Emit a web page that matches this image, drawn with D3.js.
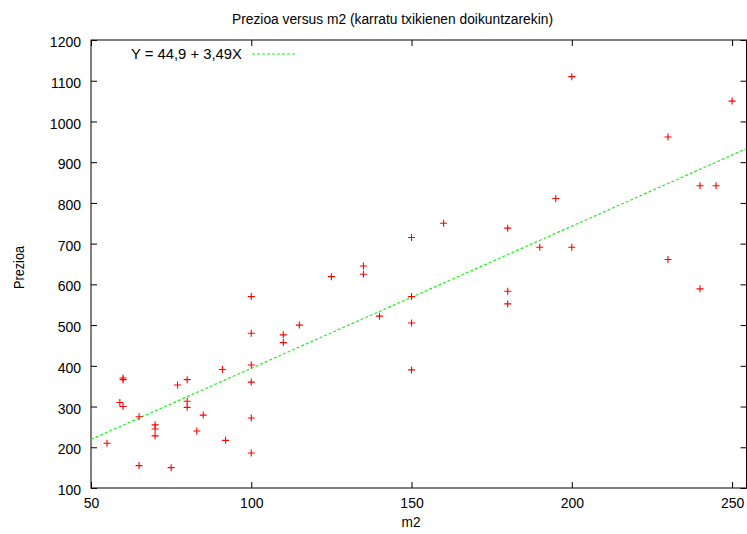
<!DOCTYPE html>
<html>
<head>
<meta charset="utf-8">
<script src="https://cdn.jsdelivr.net/npm/d3@7"></script>
<style>
  body { margin: 0; background: #fff; }
  svg { display: block; font-family: "Liberation Sans", Arial, sans-serif; }
  .axis path { display: none; }
  .axis line { stroke: #000; }
  .axis text { font-size: 14px; fill: #000; }
</style>
</head>
<body>
<div id="chart"></div>
<script>
// m2 / prezioa pairs
const m2 = [
  55, 59, 60, 60, 60, 65, 65, 70, 70, 70,
  75, 77, 80, 80, 80, 83, 85, 91, 92, 100,
  100, 100, 100, 100, 100, 110, 110, 115, 125, 135,
  135, 140, 150, 150, 150, 150, 160, 180, 180, 180,
  190, 195, 200, 200, 230, 230, 240, 240, 245, 250
];
const prezioa = [
  210, 310, 370, 366, 300, 275, 155, 255, 245, 228,
  150, 353, 366, 313, 298, 240, 279, 391, 217, 570,
  480, 402, 360, 272, 186, 476, 457, 500, 619, 645,
  625, 522, 715, 570, 505, 390, 750, 738, 583, 552,
  691, 811, 1110, 691, 962, 661, 842, 589, 842, 1050
];
const xTicks = [50, 100, 150, 200, 250];
const yTicks = [100, 200, 300, 400, 500, 600, 700, 800, 900, 1000, 1100, 1200];
const fitA = 44.9, fitB = 3.49;
const fitLabel = "Y = 44,9 + 3,49X";

const width = 747, height = 534;
const mLeft = 91, mRight = 746.5, mTop = 40, mBottom = 488;

const svg = d3.select("#chart").append("svg")
  .attr("width", width)
  .attr("height", height);

const x = d3.scaleLinear().domain([50, 254.5]).range([mLeft, mRight]);
const y = d3.scaleLinear().domain([100, 1200]).range([mBottom, mTop]);

// ticks drawn inward like gnuplot, mirrored on top and right
svg.append("g").attr("class", "axis")
  .attr("transform", `translate(${mLeft},0)`)
  .call(d3.axisLeft(y).tickValues(yTicks).tickSize(-6).tickPadding(10).tickFormat(d3.format("d")))
  .selectAll("text").attr("dy", "0.47em");
svg.append("g").attr("class", "axis")
  .attr("transform", `translate(${mRight},0)`)
  .call(d3.axisRight(y).tickValues(yTicks).tickSize(-6).tickFormat(""));
svg.append("g").attr("class", "axis")
  .attr("transform", `translate(0,${mBottom})`)
  .call(d3.axisBottom(x).tickValues(xTicks).tickSize(-6).tickPadding(10));
svg.append("g").attr("class", "axis")
  .attr("transform", `translate(0,${mTop})`)
  .call(d3.axisTop(x).tickValues(xTicks).tickSize(-6).tickFormat(""));

svg.append("rect")
  .attr("x", mLeft).attr("y", mTop)
  .attr("width", mRight - mLeft).attr("height", mBottom - mTop)
  .attr("fill", "none").attr("stroke", "#000").attr("stroke-width", 1);

// fit line
const fitXs = [50, 254.5];
svg.append("line")
  .attr("x1", x(fitXs[0])).attr("y1", y(fitA + fitB * fitXs[0]))
  .attr("x2", x(fitXs[1])).attr("y2", y(fitA + fitB * fitXs[1]))
  .attr("stroke", "#22ee22").attr("stroke-width", 1.2)
  .attr("stroke-dasharray", "3,2");

// points
const pts = m2.map((d, i) => ({ x: d, y: prezioa[i] }));
svg.append("g").selectAll("path")
  .data(pts)
  .join("path")
  .attr("d", (d) => {
    const px = x(d.x), py = y(d.y);
    return `M${px - 3.5},${py}H${px + 3.5}M${px},${py - 3.5}V${py + 3.5}`;
  })
  .attr("stroke", "#ff0000")
  .attr("stroke-width", 1.1);

// legend
svg.append("text")
  .attr("x", 242).attr("y", 59)
  .attr("text-anchor", "end")
  .attr("textLength", 111).attr("lengthAdjust", "spacingAndGlyphs")
  .style("font-size", "14px")
  .text(fitLabel);
svg.append("line")
  .attr("x1", 252).attr("x2", 295).attr("y1", 54).attr("y2", 54)
  .attr("stroke", "#22ee22").attr("stroke-width", 1.2)
  .attr("stroke-dasharray", "3,2");

// title and axis labels
svg.append("text")
  .attr("x", 392.5).attr("y", 24)
  .attr("text-anchor", "middle")
  .attr("textLength", 321).attr("lengthAdjust", "spacingAndGlyphs")
  .style("font-size", "14px")
  .text("Prezioa versus m2 (karratu txikienen doikuntzarekin)");
svg.append("text")
  .attr("x", 411).attr("y", 527)
  .attr("text-anchor", "middle")
  .attr("textLength", 19).attr("lengthAdjust", "spacingAndGlyphs")
  .style("font-size", "14px")
  .text("m2");
svg.append("text")
  .attr("transform", "translate(24,267.5) rotate(-90)")
  .attr("text-anchor", "middle")
  .attr("textLength", 43).attr("lengthAdjust", "spacingAndGlyphs")
  .style("font-size", "14px")
  .text("Prezioa");
</script>
</body>
</html>
